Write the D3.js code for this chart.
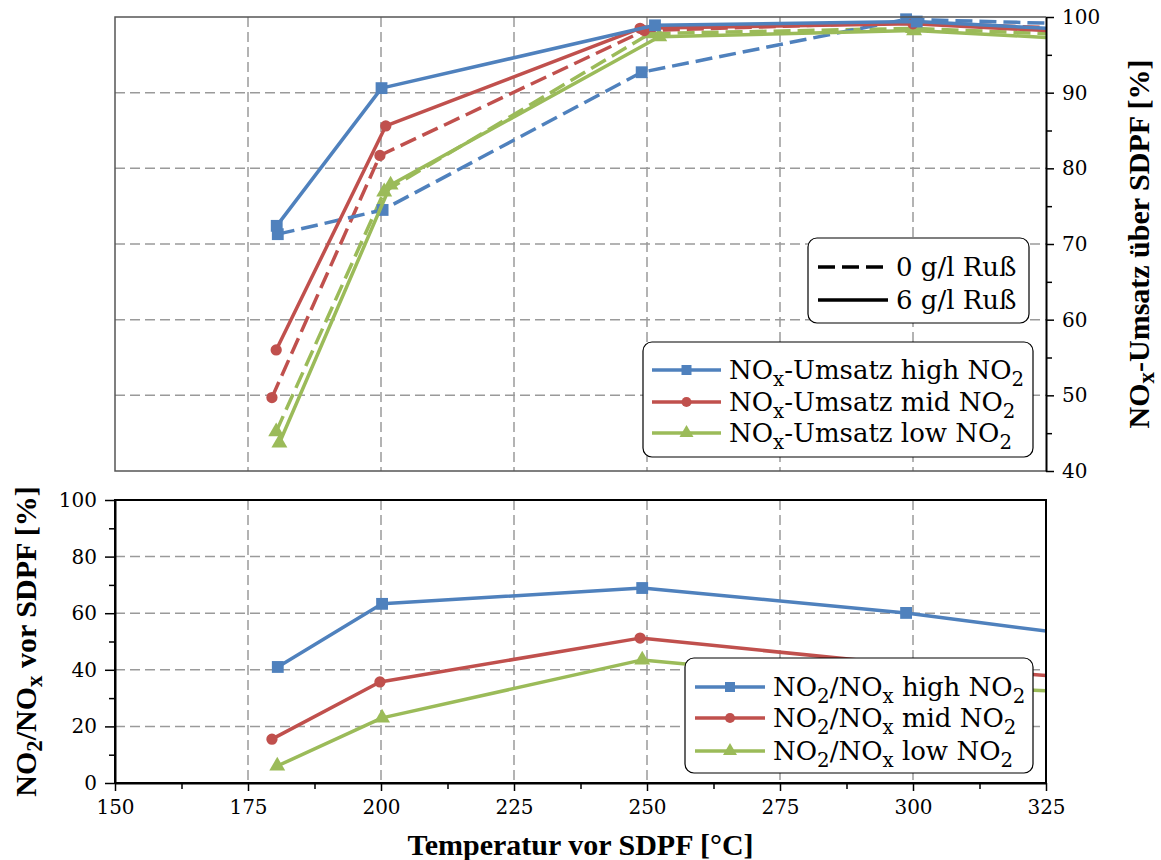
<!DOCTYPE html>
<html>
<head>
<meta charset="utf-8">
<script src="https://cdn.jsdelivr.net/npm/d3@7"></script>
<style>
  html, body { margin: 0; padding: 0; background: #fff; }
  svg { display: block; }
  .tick text { font-family: "DejaVu Serif", serif; font-size: 20px; fill: #000; }
  .legend text { font-family: "DejaVu Serif", serif; font-size: 26px; fill: #000; }
  .title { font-family: "Liberation Serif", serif; font-weight: bold; font-size: 30px; fill: #000; }
</style>
</head>
<body>
<svg id="chart" width="1161" height="860"></svg>
<script>
// ---- data --------------------------------------------------------------
// NOx conversion across the SDPF (%), 6 g/l soot (solid) and 0 g/l soot (dashed)
const highSootTemps = [180.4, 200.1, 251.5, 300.7, 350];
const highSootVals  = [72.4, 90.6, 98.9, 99.4, 97.6];
const highCleanTemps = [180.6, 200.3, 249.0, 298.7, 350];
const highCleanVals  = [71.3, 74.5, 92.7, 99.7, 98.7];
const midSootTemps = [180.3, 200.9, 248.7, 300.0, 350];
const midSootVals  = [56.0, 85.6, 98.5, 99.1, 97.3];
const midCleanTemps = [179.5, 199.8, 249.5, 300.0, 350];
const midCleanVals  = [49.7, 81.7, 98.2, 99.3, 97.9];
const lowSootTemps = [180.9, 201.8, 252.3, 300.2, 350];
const lowSootVals  = [43.7, 77.8, 97.4, 98.2, 96.4];
const lowCleanTemps = [180.3, 200.6, 250.5, 300.0, 350];
const lowCleanVals  = [45.2, 76.9, 97.8, 98.5, 97.1];

// NO2/NOx ratio upstream of the SDPF (%)
const ratioHighTemps = [180.6, 200.2, 249.1, 298.7, 350];
const ratioHighVals  = [41.0, 63.3, 68.9, 60.1, 47.6];
const ratioMidTemps  = [179.5, 199.8, 248.7, 300.0, 350];
const ratioMidVals   = [15.5, 35.7, 51.2, 41.5, 34.5];
const ratioLowTemps  = [180.5, 200.2, 249.1, 300.0, 350];
const ratioLowVals   = [6.0, 23.0, 43.5, 34.5, 30.7];

// axis ticks
const xTicks = [150, 175, 200, 225, 250, 275, 300, 325];
const xMinorTicks = [162.5, 187.5, 212.5, 237.5, 262.5, 287.5, 312.5];
const topTicks = [40, 50, 60, 70, 80, 90, 100];
const topMinorTicks = [45, 55, 65, 75, 85, 95];
const bottomTicks = [0, 20, 40, 60, 80, 100];
const bottomMinorTicks = [10, 30, 50, 70, 90];

const colors = { high: "#4f81bd", mid: "#c0504d", low: "#9bbb59" };

// ---- layout & scales ---------------------------------------------------
const svg = d3.select("#chart");
const L = 115, R = 1046;
const topT = 17, topB = 471;
const botT = 500, botB = 783;

const x = d3.scaleLinear().domain([150, 325]).range([L, R]);
const yTop = d3.scaleLinear().domain([40, 100]).range([topB, topT]);
const yBot = d3.scaleLinear().domain([0, 100]).range([botB, botT]);

svg.append("rect").attr("width", 1161).attr("height", 860).attr("fill", "#fff");

const defs = svg.append("defs");
defs.append("clipPath").attr("id", "clipTop").append("rect")
  .attr("x", L).attr("y", topT - 20).attr("width", R - L).attr("height", topB - topT + 40);
defs.append("clipPath").attr("id", "clipBot").append("rect")
  .attr("x", L).attr("y", botT - 20).attr("width", R - L).attr("height", botB - botT + 40);

const gridStyle = sel => sel.attr("stroke", "#9a9a9a").attr("stroke-width", 1.5)
  .attr("stroke-dasharray", "10,5").attr("fill", "none");

// ---- grids -------------------------------------------------------------
function grid(yScale, yVals, t, b) {
  const g = svg.append("g");
  g.selectAll(".gv").data(xTicks.filter(v => v > 150 && v < 325)).join("line")
    .attr("x1", d => x(d)).attr("x2", d => x(d)).attr("y1", t).attr("y2", b).call(gridStyle);
  g.selectAll(".gh").data(yVals).join("line")
    .attr("x1", L).attr("x2", R).attr("y1", d => yScale(d)).attr("y2", d => yScale(d)).call(gridStyle);
}
grid(yTop, [50, 60, 70, 80, 90], topT, topB);
grid(yBot, [20, 40, 60, 80], botT, botB);

// ---- series ------------------------------------------------------------
const markerPath = {
  square: d3.symbol().type(d3.symbolSquare).size(140),
  circle: d3.symbol().type(d3.symbolCircle).size(100),
  triangle: d3.symbol().type(d3.symbolTriangle).size(110)
};

function drawSeries(g, yScale, temps, vals, color, shape, dashed) {
  const pts = temps.map((t, i) => [t, vals[i]]);
  const line = d3.line().x(d => x(d[0])).y(d => yScale(d[1]));
  g.append("path").datum(pts).attr("d", line)
    .attr("fill", "none").attr("stroke", color).attr("stroke-width", 3.5)
    .attr("stroke-linejoin", "round")
    .attr("stroke-dasharray", dashed ? "17,7" : null);
  g.selectAll(null).data(pts.filter(d => d[0] <= 325)).join("path")
    .attr("d", markerPath[shape])
    .attr("transform", d => `translate(${x(d[0])},${yScale(d[1])})`)
    .attr("fill", color);
}

const gTop = svg.append("g").attr("clip-path", "url(#clipTop)");
drawSeries(gTop, yTop, lowCleanTemps, lowCleanVals, colors.low, "triangle", true);
drawSeries(gTop, yTop, midCleanTemps, midCleanVals, colors.mid, "circle", true);
drawSeries(gTop, yTop, highCleanTemps, highCleanVals, colors.high, "square", true);
drawSeries(gTop, yTop, lowSootTemps, lowSootVals, colors.low, "triangle", false);
drawSeries(gTop, yTop, midSootTemps, midSootVals, colors.mid, "circle", false);
drawSeries(gTop, yTop, highSootTemps, highSootVals, colors.high, "square", false);

const gBot = svg.append("g").attr("clip-path", "url(#clipBot)");
drawSeries(gBot, yBot, ratioLowTemps, ratioLowVals, colors.low, "triangle", false);
drawSeries(gBot, yBot, ratioMidTemps, ratioMidVals, colors.mid, "circle", false);
drawSeries(gBot, yBot, ratioHighTemps, ratioHighVals, colors.high, "square", false);

// ---- frames ------------------------------------------------------------
svg.append("path")
  .attr("d", `M${R},${topT}H${L}V${topB}H${R}`)
  .attr("fill", "none").attr("stroke", "#555").attr("stroke-width", 1.5);
svg.append("rect").attr("x", L).attr("y", botT).attr("width", R - L).attr("height", botB - botT)
  .attr("fill", "none").attr("stroke", "#000").attr("stroke-width", 2);

// ---- axes --------------------------------------------------------------
function styleAxis(g) {
  g.select(".domain").attr("stroke", "#000").attr("stroke-width", 2);
  g.selectAll(".tick line").attr("stroke", "#000").attr("stroke-width", 1.5);
  g.selectAll(".tick text").attr("font-family", null).attr("font-size", null);
}

// right axis of the conversion panel
const rAxis = svg.append("g").attr("transform", `translate(${R},0)`)
  .call(d3.axisRight(yTop).tickValues(topTicks).tickFormat(d3.format("d"))
    .tickSizeInner(8).tickSizeOuter(0).tickPadding(8));
styleAxis(rAxis);
svg.append("g").attr("transform", `translate(${R},0)`)
  .call(d3.axisRight(yTop).tickValues(topMinorTicks).tickFormat("").tickSize(6).tickSizeOuter(0))
  .call(g => { g.select(".domain").remove(); g.selectAll("line").attr("stroke", "#000").attr("stroke-width", 1.5); });

// left axis of the ratio panel
const lAxis = svg.append("g").attr("transform", `translate(${L},0)`)
  .call(d3.axisLeft(yBot).tickValues(bottomTicks).tickFormat(d3.format("d"))
    .tickSizeInner(10).tickSizeOuter(0).tickPadding(8));
styleAxis(lAxis);
svg.append("g").attr("transform", `translate(${L},0)`)
  .call(d3.axisLeft(yBot).tickValues(bottomMinorTicks).tickFormat("").tickSize(6).tickSizeOuter(0))
  .call(g => { g.select(".domain").remove(); g.selectAll("line").attr("stroke", "#000").attr("stroke-width", 1.5); });

// shared temperature axis
const xAxis = svg.append("g").attr("transform", `translate(0,${botB})`)
  .call(d3.axisBottom(x).tickValues(xTicks).tickFormat(d3.format("d"))
    .tickSizeInner(8).tickSizeOuter(0).tickPadding(9));
styleAxis(xAxis);
svg.append("g").attr("transform", `translate(0,${botB})`)
  .call(d3.axisBottom(x).tickValues(xMinorTicks).tickFormat("").tickSize(6).tickSizeOuter(0))
  .call(g => { g.select(".domain").remove(); g.selectAll("line").attr("stroke", "#000").attr("stroke-width", 1.5); });

// ---- rich text helper (subscripts) --------------------------------------
function richText(sel, parts, subShift) {
  let shifted = false;
  parts.forEach(p => {
    const isSub = p.startsWith("_");
    const txt = isSub ? p.slice(1) : p;
    const ts = sel.append("tspan").text(txt);
    if (isSub && !shifted) { ts.attr("dy", subShift).attr("font-size", "0.76em"); shifted = true; }
    else if (isSub) { ts.attr("font-size", "0.76em"); }
    else if (!isSub && shifted) { ts.attr("dy", -subShift); shifted = false; }
  });
}

// ---- axis titles -------------------------------------------------------
svg.append("text").attr("class", "title")
  .attr("x", (L + R) / 2).attr("y", 855).attr("text-anchor", "middle")
  .text("Temperatur vor SDPF [°C]");

const rTitle = svg.append("text").attr("class", "title")
  .attr("text-anchor", "middle")
  .attr("transform", `translate(1149,${(topT + topB) / 2}) rotate(-90)`);
richText(rTitle, ["NO", "_x", "-Umsatz über SDPF [%]"], 5);

const lTitle = svg.append("text").attr("class", "title")
  .attr("text-anchor", "middle")
  .attr("transform", `translate(36,${(botT + botB) / 2}) rotate(-90)`);
richText(lTitle, ["NO", "_2", "/NO", "_x", " vor SDPF [%]"], 6);

// ---- legends -----------------------------------------------------------
function legendBox(x0, y0, w, h) {
  return svg.append("g").attr("class", "legend").call(g =>
    g.append("rect").attr("x", x0).attr("y", y0).attr("width", w).attr("height", h)
      .attr("rx", 9).attr("fill", "#fff").attr("stroke", "#000").attr("stroke-width", 1.2));
}

// soot loading (line style)
const lgStyle = legendBox(808, 238, 221, 85);
[["0 g/l Ruß", true, 267], ["6 g/l Ruß", false, 300]].forEach(([label, dashed, yy]) => {
  lgStyle.append("line").attr("x1", 818).attr("x2", 888).attr("y1", yy).attr("y2", yy)
    .attr("stroke", "#000").attr("stroke-width", 3.5)
    .attr("stroke-dasharray", dashed ? "17,7" : null);
  lgStyle.append("text").attr("x", 896).attr("y", yy + 9).attr("font-size", 27).text(label);
});

function seriesLegend(g, x1, x2, tx, entries) {
  entries.forEach(e => {
    g.append("line").attr("x1", x1).attr("x2", x2).attr("y1", e.y).attr("y2", e.y)
      .attr("stroke", e.color).attr("stroke-width", 3.5);
    g.append("path").attr("d", d3.symbol().type(e.sym).size(e.size))
      .attr("transform", `translate(${(x1 + x2) / 2},${e.y})`).attr("fill", e.color);
    const t = g.append("text").attr("x", tx).attr("y", e.y + 9);
    richText(t, e.parts, 7);
  });
}

const lgConv = legendBox(643, 342, 390, 115);
seriesLegend(lgConv, 652, 721, 729, [
  { y: 370, color: colors.high, sym: d3.symbolSquare, size: 100, parts: ["NO", "_x", "-Umsatz high NO", "_2"] },
  { y: 402, color: colors.mid, sym: d3.symbolCircle, size: 80, parts: ["NO", "_x", "-Umsatz mid NO", "_2"] },
  { y: 433, color: colors.low, sym: d3.symbolTriangle, size: 85, parts: ["NO", "_x", "-Umsatz low NO", "_2"] }
]);

const lgRatio = legendBox(685, 658, 348, 115);
seriesLegend(lgRatio, 695, 765, 773, [
  { y: 687, color: colors.high, sym: d3.symbolSquare, size: 100, parts: ["NO", "_2", "/NO", "_x", " high NO", "_2"] },
  { y: 718, color: colors.mid, sym: d3.symbolCircle, size: 80, parts: ["NO", "_2", "/NO", "_x", " mid NO", "_2"] },
  { y: 751, color: colors.low, sym: d3.symbolTriangle, size: 85, parts: ["NO", "_2", "/NO", "_x", " low NO", "_2"] }
]);
</script>
</body>
</html>
